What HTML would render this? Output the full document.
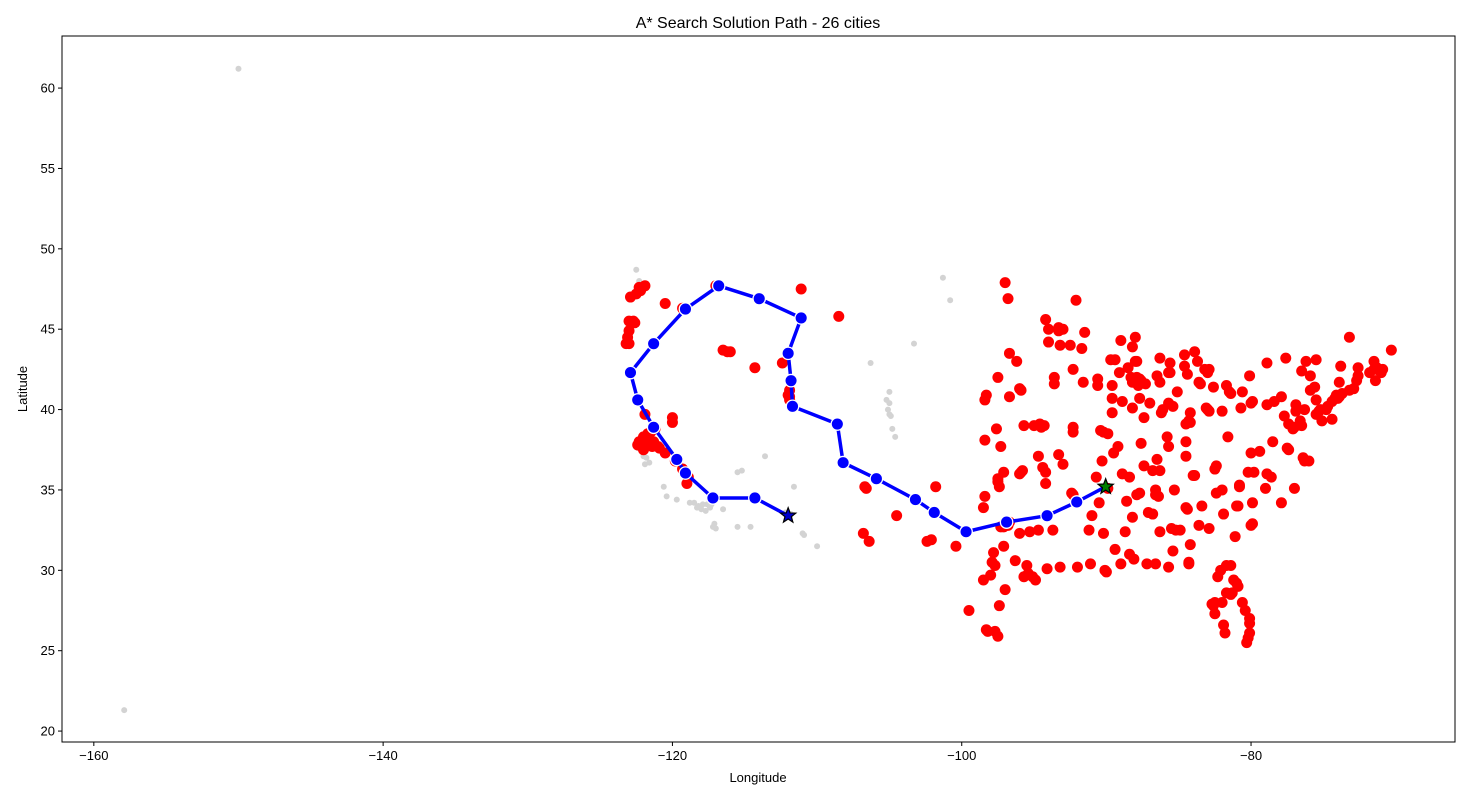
<!DOCTYPE html>
<html><head><meta charset="utf-8">
<style>
html,body{margin:0;padding:0;background:#fff;}
svg{display:block;font-family:"Liberation Sans","DejaVu Sans",sans-serif;}
</style></head>
<body>
<svg id="chart" width="1470" height="800" viewBox="0 0 1470 800" xmlns="http://www.w3.org/2000/svg">
<rect x="0" y="0" width="1470" height="800" fill="#fff"/>
<text x="758" y="28" text-anchor="middle" font-size="16" fill="#000">A* Search Solution Path - 26 cities</text>
<text x="758" y="782" text-anchor="middle" font-size="13" fill="#000">Longitude</text>
<text x="0" y="0" transform="translate(27,389) rotate(-90)" text-anchor="middle" font-size="13" fill="#000">Latitude</text>
<g id="gray"></g>
<g id="red"></g>
<g id="path"></g>
<g id="axes"></g>
</svg>
<script>
const xTicks=[-160,-140,-120,-100,-80];
const yTicks=[20,25,30,35,40,45,50,55,60];
const pathLon=[-112.0,-114.3,-117.2,-119.1,-119.7,-121.3,-122.4,-122.9,-121.3,-119.1,-116.8,-114.0,-111.1,-112.0,-111.8,-111.7,-108.6,-108.2,-105.9,-103.2,-101.9,-99.7,-96.9,-94.1,-92.05,-90.05];
const pathLat=[33.4,34.5,34.5,36.05,36.9,38.9,40.6,42.3,44.1,46.25,47.7,46.9,45.7,43.5,41.8,40.2,39.1,36.7,35.7,34.4,33.6,32.4,33.0,33.4,34.25,35.2];
const redPts=[[-122.3,47.6],[-122.5,47.2],[-122.9,47.0],[-122.2,47.4],[-121.9,47.7],[-123.0,45.5],[-122.7,45.5],[-122.6,45.4],[-123.0,44.9],[-123.1,44.5],[-123.2,44.1],[-123.0,44.1],
[-122.4,37.8],[-122.2,37.8],[-122.0,37.5],[-121.9,37.9],[-122.3,38.0],[-121.5,38.6],[-121.3,38.0],[-120.9,37.6],[-120.5,37.3],[-119.8,36.8],[-119.3,36.3],[-119.0,35.4],[-118.9,35.8],[-121.2,38.8],[-120.0,39.2],[-120.0,39.5],[-121.9,39.7],[-122.0,38.3],[-121.7,38.5],[-121.6,37.8],[-121.0,37.7],[-121.8,38.1],[-121.4,37.7],
[-116.2,43.6],[-116.5,43.7],[-116.0,43.6],[-117.0,47.7],[-116.8,47.7],[-120.5,46.6],[-119.3,46.3],[-114.3,42.6],[-111.1,47.5],[-108.5,45.8],
[-111.9,40.8],[-111.9,41.2],[-111.9,40.6],[-112.0,40.9],[-112.4,42.9],
[-106.6,35.1],[-106.7,35.2],[-106.8,32.3],[-106.4,31.8],[-104.5,33.4],[-101.8,35.2],[-102.1,31.9],[-102.4,31.8],[-100.4,31.5],
[-97.7,30.3],[-97.3,32.7],[-96.8,32.8],[-96.7,33.0],[-97.1,32.7],[-98.5,29.4],[-95.4,29.8],[-95.1,29.6],[-94.9,29.4],[-97.4,27.8],[-97.5,25.9],[-97.7,26.2],[-98.2,26.2],[-98.3,26.3],[-99.5,27.5],[-97.1,31.5],[-97.8,31.1],[-96.3,30.6],[-94.1,30.1],[-93.2,30.2],[-95.3,32.4],[-94.7,32.5],[-97.0,28.8],[-98.0,29.7],[-97.9,30.5],[-95.7,29.6],[-95.5,30.3],[-96.0,32.3],[-97.5,35.5],[-97.4,35.2],[-97.5,35.7],[-95.9,36.1],[-95.8,36.2],[-98.4,34.6],[-98.5,33.9],[-97.1,36.1],[-97.3,37.7],[-97.6,38.8],[-98.4,38.1],[-95.7,39.0],[-94.6,39.1],[-94.5,38.9],[-94.3,39.0],[-93.3,37.2],[-94.4,36.4],[-94.2,36.1],[-94.2,35.4],[-92.3,34.7],[-92.4,34.8],[-91.2,32.5],[-93.7,32.5],[-92.0,30.2],[-91.1,30.4],[-90.1,30.0],[-90.0,29.9],[-89.0,30.4],[-88.1,30.7],[-87.2,30.4],[-86.6,30.4],[-85.7,30.2],[-84.3,30.4],[-90.2,32.3],[-88.7,32.4],[-89.4,31.3],[-86.3,32.4],[-85.5,32.6],[-85.4,31.2],[-88.6,34.3],[-86.8,33.5],[-86.6,34.7],[-87.7,34.8],[-85.3,35.0],[-84.4,33.8],[-84.5,33.9],[-83.4,34.0],[-84.0,35.9],[-83.9,35.9],[-86.8,36.2],[-86.3,36.2],[-87.4,36.5],[-89.9,35.1],[-90.7,35.8],[-85.8,38.3],[-84.5,38.0],[-84.5,39.1],[-84.2,39.8],[-83.0,40.0],[-81.7,41.5],[-81.5,41.1],[-80.0,40.4],[-79.9,40.5],[-80.6,41.1],[-83.6,41.7],[-83.0,42.3],[-83.2,42.5],[-84.6,42.7],[-85.6,42.9],[-86.3,43.2],[-84.4,42.2],[-85.6,42.3],[-87.6,41.8],[-87.7,41.9],[-87.9,42.0],[-88.0,41.8],[-87.8,41.5],[-88.2,41.7],[-88.3,42.0],[-89.1,42.3],[-89.6,40.7],[-88.2,40.1],[-89.6,39.8],[-87.4,39.5],[-86.2,39.8],[-86.1,40.0],[-85.1,41.1],[-86.3,41.7],[-87.3,41.6],[-87.9,43.0],[-88.0,43.0],[-89.4,43.1],[-89.0,44.3],[-88.0,44.5],[-91.5,44.8],[-92.1,46.8],[-93.3,44.9],[-93.1,45.0],[-93.3,45.1],[-92.5,44.0],[-94.2,45.6],[-93.6,41.6],[-93.6,42.0],[-91.6,41.7],[-92.3,42.5],[-90.6,41.5],[-96.0,41.3],[-96.7,40.8],[-96.7,43.5],[-96.8,46.9],[-97.0,47.9],[-98.3,40.9],[-92.3,38.9],[-90.2,38.6],[-90.4,38.7],[-89.2,37.7],[-89.9,38.5],[-88.9,36.0],[-87.6,37.9],[-86.5,36.9],[-85.7,37.7],[-84.5,37.1],[-82.4,36.5],[-82.5,36.3],[-81.6,38.3],[-80.8,35.2],[-80.8,35.3],[-80.2,36.1],[-79.8,36.1],[-78.6,35.8],[-78.9,36.0],[-77.9,34.2],[-77.0,35.1],[-79.0,35.1],[-81.0,34.0],[-80.0,32.8],[-79.9,32.9],[-81.1,32.1],[-81.4,30.3],[-81.7,30.3],[-82.3,29.6],[-81.4,28.5],[-81.3,28.6],[-82.5,28.0],[-82.6,27.8],[-82.7,27.9],[-82.5,27.3],[-81.9,26.6],[-81.8,26.1],[-80.1,26.1],[-80.2,25.8],[-80.3,25.5],[-80.1,26.7],[-80.1,27.0],[-80.4,27.5],[-80.6,28.0],[-81.0,29.2],[-80.9,29.0],[-84.3,30.5],[-82.0,28.0],[-81.7,28.6],[-81.2,29.4],[-82.1,30.0],[-83.6,32.8],[-84.9,32.5],[-84.2,31.6],[-82.9,32.6],[-81.9,33.5],[-82.4,34.8],[-82.0,35.0],[-80.9,34.0],[-79.9,34.2],[-76.3,36.8],[-76.0,36.8],[-76.4,37.0],[-77.4,37.5],[-77.5,37.6],[-79.4,37.4],[-80.0,37.3],[-78.5,38.0],[-77.0,38.9],[-77.1,38.8],[-77.4,39.1],[-76.6,39.3],[-76.5,39.0],[-75.5,39.7],[-75.2,40.0],[-75.3,39.9],[-75.5,40.6],[-76.9,40.3],[-76.3,40.0],[-77.9,40.8],[-78.4,40.5],[-80.1,42.1],[-78.9,42.9],[-77.6,43.2],[-76.2,43.0],[-75.9,42.1],[-73.8,42.7],[-73.9,41.7],[-74.0,40.7],[-73.9,40.8],[-74.2,40.7],[-74.1,40.9],[-74.4,40.5],[-74.7,40.2],[-73.7,41.0],[-73.2,41.2],[-72.9,41.3],[-72.7,41.8],[-72.6,42.1],[-71.8,42.3],[-71.1,42.4],[-71.0,42.3],[-71.4,41.8],[-71.5,42.5],[-71.3,42.6],[-70.9,42.5],[-71.5,43.0],[-70.3,43.7],[-72.6,42.6],[-73.2,44.5],[-75.5,43.1],[-76.5,42.4],[-75.1,39.3],[-74.4,39.4],[-74.8,40.0],[-75.9,41.2],[-75.6,41.4],[-76.9,39.9],[-77.7,39.6],[-78.9,40.3],[-80.7,40.1],[-81.4,41.0],[-82.6,41.4],[-83.5,41.6],[-82.9,42.5],[-83.7,43.0],[-83.9,43.6],[-84.6,43.4],[-85.7,42.3],[-86.5,42.1],[-83.1,40.1],[-82.0,39.9],[-82.9,39.9],[-84.2,39.2],[-84.3,39.3],[-85.7,40.4],[-85.4,40.2],[-87.0,40.4],[-87.7,40.7],[-88.9,40.5],[-89.6,41.5],[-90.6,41.9],[-91.7,43.8],[-93.2,44.0],[-94.0,44.2],[-96.2,43.0],[-95.9,41.2],[-97.5,42.0],[-98.4,40.6],[-96.0,36.0],[-94.7,37.1],[-93.0,36.6],[-92.3,38.6],[-90.3,36.8],[-89.5,37.3],[-90.5,34.2],[-91.0,33.4],[-88.4,31.0],[-88.2,33.3],[-87.9,34.7],[-86.6,35.0],[-85.2,32.5],[-87.1,33.6],[-88.4,35.8],[-86.4,34.6],[-95.0,39.0],[-94.0,45.0],[-93.0,45.0],[-89.7,43.1],[-88.5,42.6],[-88.2,43.9]];
const grayPts=[[-118.2,34.0],[-118.0,33.8],[-117.7,33.7],[-117.2,32.7],[-117.1,32.9],[-116.5,33.8],[-117.3,34.1],[-117.6,34.1],[-118.5,34.2],[-118.8,34.2],[-119.7,34.4],[-120.4,34.6],[-120.6,35.2],[-117.0,32.6],[-117.4,33.9],[-117.9,34.1],[-118.3,33.9],[-115.5,32.7],[-114.6,32.7],[-115.5,36.1],[-115.2,36.2],[-112.0,33.4],[-111.8,33.5],[-111.9,33.3],[-112.2,33.6],[-111.0,32.3],[-110.9,32.2],[-111.6,35.2],[-113.6,37.1],[-114.4,34.5],[-110.0,31.5],[-122.4,37.6],[-122.0,37.1],[-121.8,37.0],[-122.1,37.4],[-121.9,36.6],[-121.6,36.7],[-121.0,37.5],[-122.5,48.7],[-122.3,48.0],[-105.0,39.7],[-104.9,39.6],[-105.1,40.0],[-105.2,40.6],[-104.8,38.8],[-104.6,38.3],[-105.0,40.4],[-105.0,41.1],[-103.3,44.1],[-101.3,48.2],[-100.8,46.8],[-106.3,42.9],[-150.0,61.2],[-157.9,21.3]];
const startPt=[-112.0,33.4];
const endPt=[-90.05,35.2];

const L=62,R=1455,T=36,B=742,xMin=-162.2,xMax=-65.9,yMin=19.32,yMax=63.24;
const sx=v=>L+(v-xMin)/(xMax-xMin)*(R-L);
const sy=v=>B-(v-yMin)/(yMax-yMin)*(B-T);
const NS='http://www.w3.org/2000/svg';
function mk(tag,attrs,parent){const e=document.createElementNS(NS,tag);for(const k in attrs)e.setAttribute(k,attrs[k]);parent.appendChild(e);return e;}

const gG=document.getElementById('gray');
grayPts.forEach(p=>{const c=mk('circle',{cx:sx(p[0]),cy:sy(p[1]),r:3,fill:'#d3d3d3'},gG);

});
const gR=document.getElementById('red');
redPts.forEach(p=>{const c=mk('circle',{cx:sx(p[0]),cy:sy(p[1]),r:5.5,fill:'#ff0000'},gR);

});
const gP=document.getElementById('path');
const pts=pathLon.map((v,i)=>sx(v)+','+sy(pathLat[i])).join(' ');
const pl=mk('polyline',{points:pts,fill:'none',stroke:'#0000ff','stroke-width':3.5,'stroke-linejoin':'round'},gP);


pathLon.forEach((v,i)=>{if(i===0||i===pathLon.length-1)return;const c=mk('circle',{cx:sx(v),cy:sy(pathLat[i]),r:6.2,fill:'#0000ff',stroke:'#fff','stroke-width':1.3},gP);

});
function star(cx,cy,r,fill,name){let d='';for(let k=0;k<10;k++){const rr=k%2?r*0.42:r;const a=-Math.PI/2+k*Math.PI/5;d+=(k?'L':'M')+(cx+rr*Math.cos(a)).toFixed(2)+','+(cy+rr*Math.sin(a)).toFixed(2);}
const s=mk('path',{d:d+'Z',fill:fill,stroke:'#000','stroke-width':1.2},gP);

}
star(sx(endPt[0]),sy(endPt[1]),8,'#008000','end-city-star');
star(sx(startPt[0]),sy(startPt[1]),8,'#0000cc','start-city-star');

const gA=document.getElementById('axes');
const fr=mk('rect',{x:L,y:T,width:R-L,height:B-T,fill:'none',stroke:'#000','stroke-width':1},gA);


xTicks.forEach(v=>{const x=sx(v);mk('line',{x1:x,x2:x,y1:B,y2:B+4,stroke:'#000'},gA);
const t=mk('text',{x:x,y:B+18,'text-anchor':'middle','font-size':13},gA);t.textContent='\u2212'+Math.abs(v);

});
yTicks.forEach(v=>{const y=sy(v);mk('line',{x1:L-4,x2:L,y1:y,y2:y,stroke:'#000'},gA);
const t=mk('text',{x:L-7,y:y+4.5,'text-anchor':'end','font-size':13},gA);t.textContent=v;

});
</script>
</body></html>
